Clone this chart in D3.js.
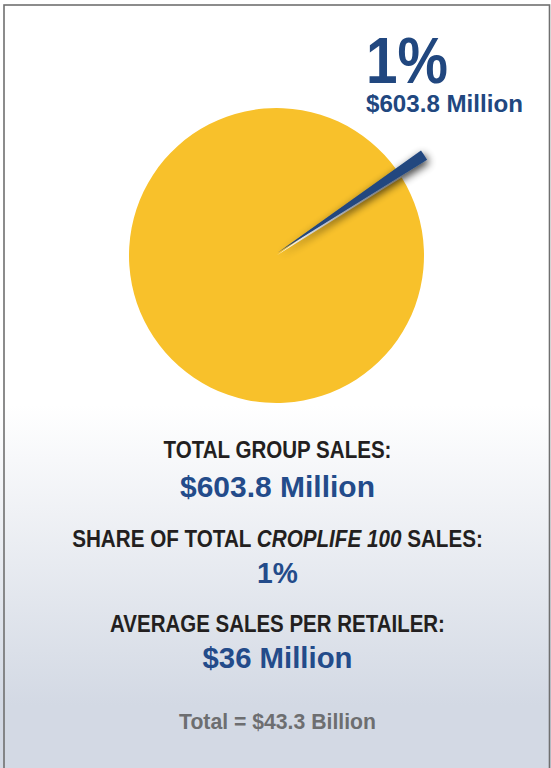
<!DOCTYPE html>
<html>
<head>
<meta charset="utf-8">
<script src="https://cdn.jsdelivr.net/npm/d3@7"></script>
<style>
  html, body { margin: 0; padding: 0; background: #fff; }
  svg { display: block; }
  text { font-family: "Liberation Sans", Arial, "Helvetica Neue", sans-serif; font-weight: bold; }
</style>
</head>
<body>
<svg id="chart" width="551" height="768"></svg>
<script>
// Group share of the CropLife 100 total (percent)
const sliceNames = ["Group", "Rest of CropLife 100"];
const sliceValues = [1, 99];
const sliceColors = ["#21477f", "#f8c12b"];

// Callout on the group slice
const calloutPct = "1%";
const calloutValue = "$603.8 Million";

// Summary block below the pie
const statHeadings = ["TOTAL GROUP SALES:", "SHARE OF TOTAL |CROPLIFE 100| SALES:", "AVERAGE SALES PER RETAILER:"];
const statValues = ["$603.8 Million", "1%", "$36 Million"];
const footnote = "Total = $43.3 Billion";

const W = 551, H = 768;
const svg = d3.select("#chart");
const defs = svg.append("defs");

// Panel background: white fading to a pale blue-grey toward the bottom
const grad = defs.append("linearGradient")
  .attr("id", "panelFade")
  .attr("gradientUnits", "userSpaceOnUse")
  .attr("x1", 0).attr("y1", 405).attr("x2", 0).attr("y2", 705);
grad.append("stop").attr("offset", 0).attr("stop-color", "#ffffff");
grad.append("stop").attr("offset", 1).attr("stop-color", "#d3d9e4");

svg.append("rect").attr("x", 0).attr("y", 0).attr("width", W).attr("height", H)
  .attr("fill", "url(#panelFade)");
svg.append("rect")
  .attr("x", 4).attr("y", 5).attr("width", 545.5).attr("height", H + 20)
  .attr("fill", "none").attr("stroke", "#707070").attr("stroke-width", 1.6);

// Soft shadow for the pulled-out slice
const shadow = defs.append("filter").attr("id", "sliceShadow")
  .attr("x", "-50%").attr("y", "-50%").attr("width", "200%").attr("height", "200%");
shadow.append("feGaussianBlur").attr("in", "SourceAlpha").attr("stdDeviation", 4.5).attr("result", "b");
shadow.append("feOffset").attr("in", "b").attr("dx", 2).attr("dy", 3).attr("result", "o");
shadow.append("feComponentTransfer").attr("in", "o").attr("result", "s")
  .append("feFuncA").attr("type", "linear").attr("slope", 0.8);
const merge = shadow.append("feMerge");
merge.append("feMergeNode").attr("in", "s");
merge.append("feMergeNode").attr("in", "SourceGraphic");

// Pie
const cx = 276.5, cy = 255.5, radius = 147.5;
const groupMid = 56.3 * Math.PI / 180;
const groupSpan = 2 * Math.PI * sliceValues[0] / d3.sum(sliceValues);
const pie = d3.pie().sort(null).value(d => d)
  .startAngle(groupMid - groupSpan / 2)
  .endAngle(groupMid - groupSpan / 2 + 2 * Math.PI);
const arcs = pie(sliceValues);

const g = svg.append("g").attr("transform", `translate(${cx},${cy})`);
const mainArc = d3.arc().innerRadius(0).outerRadius(radius);
const pulledArc = d3.arc().innerRadius(0).outerRadius(radius * 1.195);

g.append("path").datum(arcs[1]).attr("d", mainArc).attr("fill", sliceColors[1]);

const pull = 3;
const mid0 = (arcs[0].startAngle + arcs[0].endAngle) / 2;
g.append("path").datum(arcs[0])
  .attr("d", pulledArc)
  .attr("fill", sliceColors[0])
  .attr("filter", "url(#sliceShadow)")
  .attr("transform", `translate(${pull * Math.sin(mid0) - 1.5},${-pull * Math.cos(mid0) - 1})`);

// Condensed look: squeeze each text horizontally to its set width
function squeeze(sel, width, anchorX) {
  const w = sel.node().getBBox().width;
  const sx = width / w;
  sel.attr("transform", `translate(${anchorX},0) scale(${sx},1) translate(${-anchorX},0)`);
  return sel;
}

squeeze(svg.append("text").attr("x", 366).attr("y", 83)
  .attr("font-size", 65).attr("fill", "#21477f").text(calloutPct), 82, 366);
squeeze(svg.append("text").attr("x", 366).attr("y", 112)
  .attr("font-size", 24).attr("fill", "#21477f").text(calloutValue), 157, 366);

// Summary block
const midX = 277.5;
const headY = [458, 547, 632];
const headW = [228, 411, 335];
const valY = [497, 583, 668];
const valW = [195, 41, 150];

statHeadings.forEach((h, i) => {
  const t = svg.append("text").attr("x", midX).attr("y", headY[i])
    .attr("text-anchor", "middle").attr("font-size", 23.5).attr("fill", "#231f20");
  h.split("|").forEach((part, j) => {
    t.append("tspan").attr("font-style", j === 1 ? "italic" : "normal").text(part);
  });
  squeeze(t, headW[i], midX);
  squeeze(svg.append("text").attr("x", midX).attr("y", valY[i])
    .attr("text-anchor", "middle").attr("font-size", 29).attr("fill", "#234b8a")
    .text(statValues[i]), valW[i], midX);
});

squeeze(svg.append("text").attr("x", midX).attr("y", 729)
  .attr("text-anchor", "middle").attr("font-size", 22.5).attr("fill", "#6d6e70")
  .text(footnote), 197, midX);
</script>
</body>
</html>
